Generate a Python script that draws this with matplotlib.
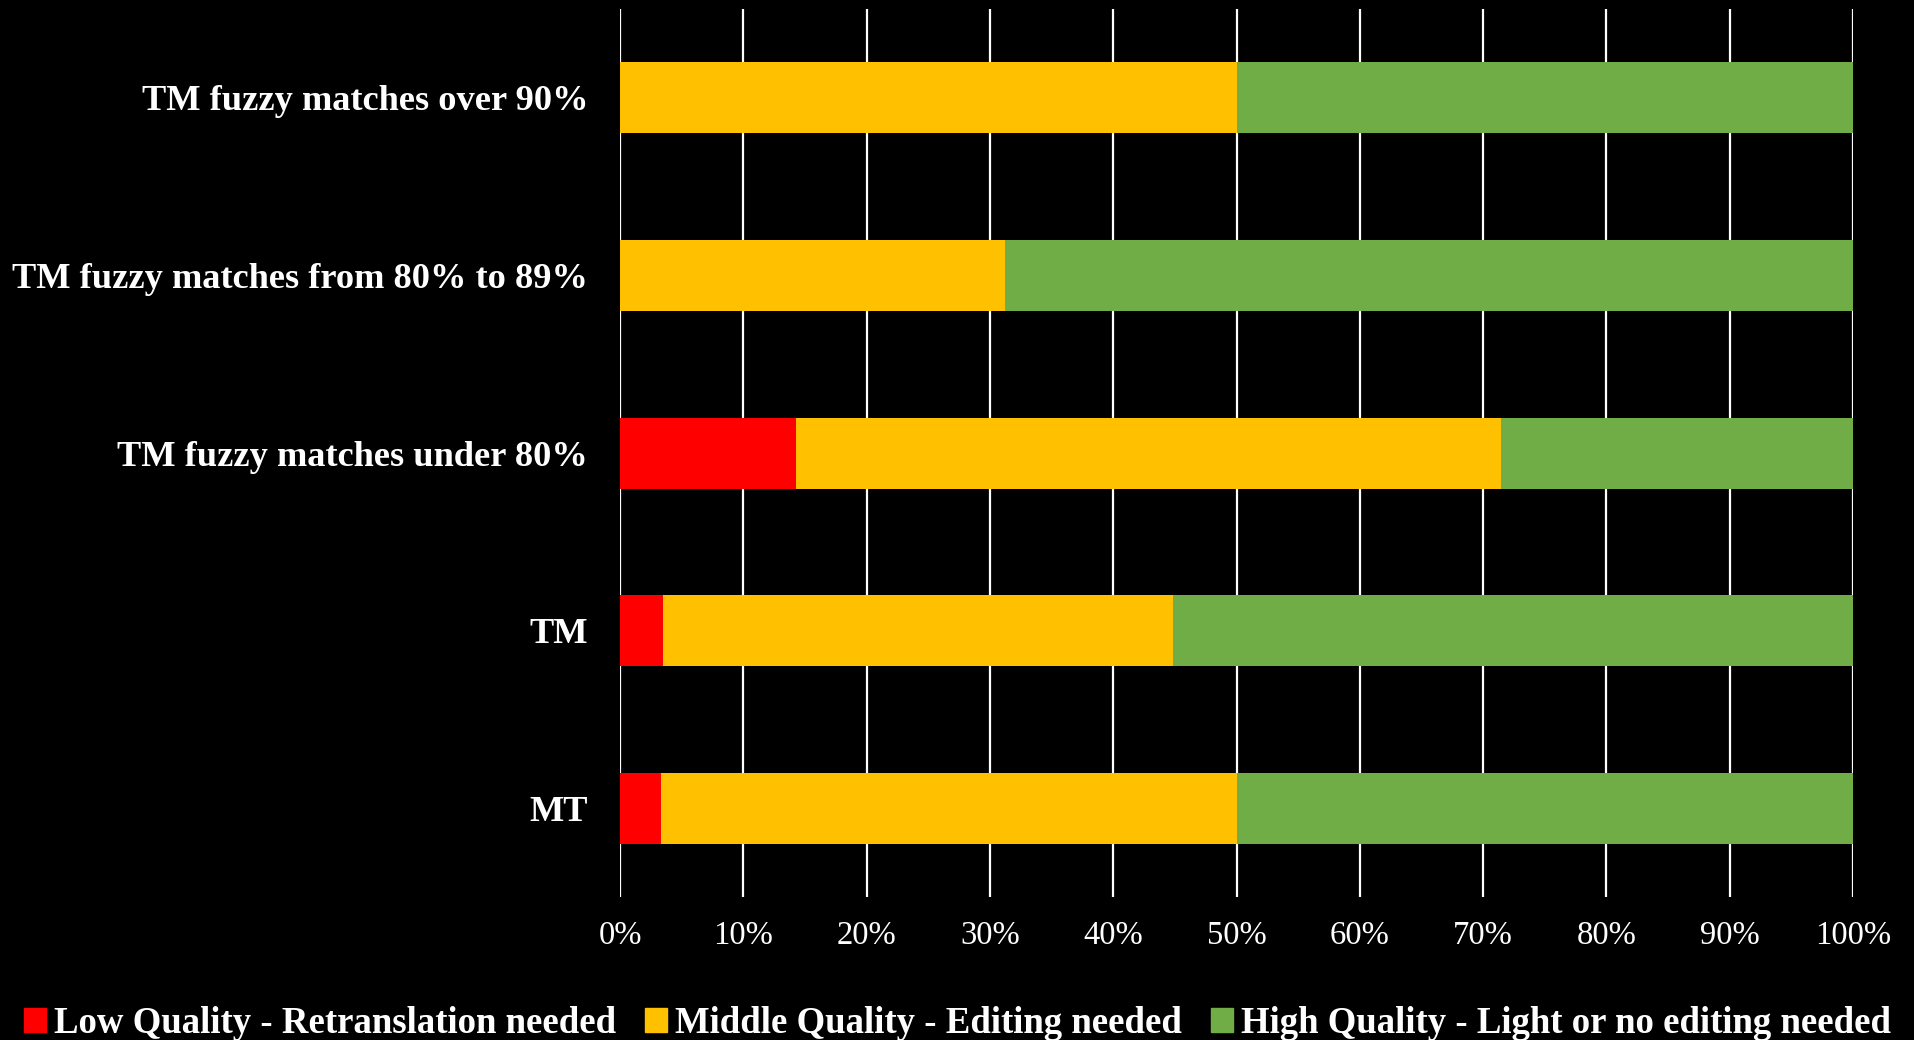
import matplotlib
matplotlib.use("Agg")
import matplotlib.pyplot as plt
import matplotlib.patches as mpatches
from matplotlib.ticker import MultipleLocator, FuncFormatter
import numpy as np

# Share of segments in each quality band, per source (percent)
categories = ["MT", "TM", "TM fuzzy matches under 80%",
              "TM fuzzy matches from 80% to 89%", "TM fuzzy matches over 90%"]
low_quality = [3.33, 3.45, 14.29, 0.0, 0.0]
middle_quality = [46.67, 41.38, 57.14, 31.25, 50.0]
high_quality = [50.0, 55.17, 28.57, 68.75, 50.0]

series_names = ["Low Quality - Retranslation needed",
                "Middle Quality - Editing needed",
                "High Quality - Light or no editing needed"]
colors = ["#FF0000", "#FFC000", "#70AD47"]

plt.rcParams["font.family"] = ["Liberation Serif", "DejaVu Serif"]

fig = plt.figure(figsize=(19.15, 10.4), dpi=100, facecolor="black")
ax = fig.add_axes([0.3238, 0.1375, 0.6438, 0.8538], facecolor="black")

y = np.arange(len(categories))
left = np.zeros(len(categories))
for vals, col in zip([low_quality, middle_quality, high_quality], colors):
    ax.barh(y, vals, left=left, height=0.4, color=col, zorder=3)
    left += np.array(vals)

ax.set_xlim(0, 100)
ax.set_ylim(-0.5, len(categories) - 0.5)
ax.xaxis.set_major_locator(MultipleLocator(10))
ax.xaxis.set_major_formatter(FuncFormatter(lambda v, p: f"{v:.0f}%"))
ax.grid(axis="x", color="white", linewidth=1.6, zorder=1)
for s in ax.spines.values():
    s.set_visible(False)

ax.set_yticks(y)
ax.set_yticklabels(categories, fontsize=26.2, fontweight="bold", color="white")
ax.tick_params(axis="y", length=0, pad=23)
ax.tick_params(axis="x", length=0, pad=17, labelsize=23.5, labelcolor="white")

handles = [mpatches.Patch(color=c, label=n) for c, n in zip(colors, series_names)]
leg = fig.legend(handles=handles, loc="center", bbox_to_anchor=(0.5, 0.016),
                 ncol=3, frameon=False, handlelength=0.6, handleheight=0.6,
                 handletextpad=0.2, columnspacing=0.8,
                 prop={"size": 26.5, "weight": "bold"})
for t in leg.get_texts():
    t.set_color("white")

fig.savefig("out.png", dpi=100, facecolor="black")
